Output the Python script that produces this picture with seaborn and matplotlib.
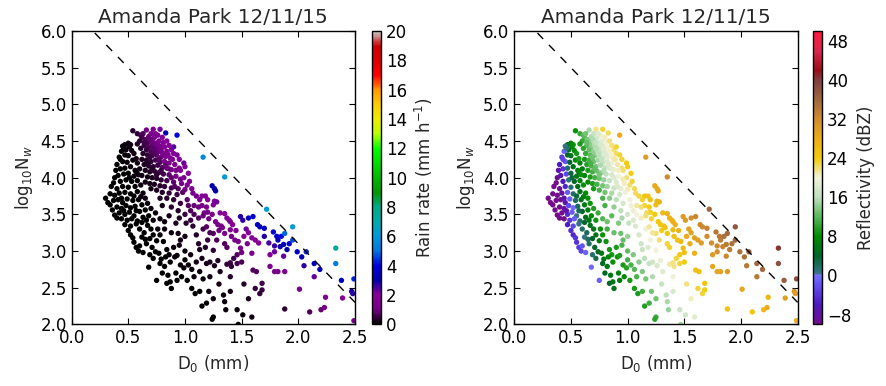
import numpy as np
import pandas as pd
import matplotlib
matplotlib.use("Agg")
import matplotlib.pyplot as plt
import seaborn as sns
from matplotlib.colors import LinearSegmentedColormap, Normalize
from matplotlib.cm import ScalarMappable
from matplotlib.ticker import FormatStrFormatter

# ---------------- data ----------------
title = "Amanda Park 12/11/15"

# core, upper part
core_top_d0 = [0.54,0.58,0.61,0.66,0.72,0.78,0.83,0.93,0.62,0.65,
               0.68,0.70,0.73,0.76,0.80,0.67,0.70,0.74,0.77,0.81,
               0.84,0.64,0.68,0.71,0.75,0.78,0.82,0.86,0.88,0.66,
               0.70,0.73,0.77,0.80,0.84,0.90,0.93,0.63,0.67,0.71,
               0.75,0.79,0.83,0.87,0.60,0.58,0.61,0.69,0.72,0.76,
               0.79,0.74,0.85,0.89]
core_top_nw = [4.64,4.60,4.58,4.65,4.66,4.66,4.61,4.58,4.55,4.52,
               4.56,4.60,4.55,4.58,4.55,4.48,4.50,4.47,4.50,4.48,
               4.50,4.44,4.42,4.44,4.41,4.43,4.42,4.44,4.38,4.38,
               4.36,4.38,4.36,4.34,4.36,4.33,4.31,4.33,4.31,4.30,
               4.31,4.28,4.29,4.27,4.50,4.46,4.40,4.53,4.48,4.45,
               4.39,4.33,4.32,4.25]
core_top_rain = [0.36,0.46,0.56,0.95,1.45,2.12,3.4,4.0,0.56,0.66,
                 0.89,1.11,1.20,1.56,1.85,0.69,0.88,1.07,1.37,1.66,
                 2.07,0.51,0.65,0.82,0.99,1.25,1.54,2.0,1.94,0.51,
                 0.64,0.81,1.0,1.14,1.50,1.93,2.14,0.36,0.46,0.59,
                 0.79,0.94,1.21,1.45,0.43,0.33,0.37,0.89,0.96,1.16,
                 1.21,0.77,1.44,1.52]
core_top_refl = [8.5,10.5,11.9,15.3,21.5,23.5,22.4,28.0,12.2,13.5,
                 15.4,16.7,17.5,19.2,20.6,14.0,15.7,17.2,18.8,20.2,
                 21.7,12.1,14.0,15.5,17.0,18.5,20.1,21.8,22.0,12.6,
                 14.3,15.8,17.4,18.5,20.3,22.2,23.1,10.5,12.3,14.1,
                 16.0,17.5,19.2,20.6,10.6,9.1,10.1,15.5,16.4,17.9,
                 18.6,15.8,20.2,21.0]

# core, middle part
core_mid_d0 = [0.62,0.66,0.70,0.74,0.78,0.82,0.86,0.91,0.95,0.64,
               0.68,0.72,0.76,0.80,0.84,0.88,0.96,1.03,0.60,0.65,
               0.69,0.73,0.77,0.81,0.86,0.92,0.99,0.62,0.67,0.71,
               0.75,0.79,0.84,0.90,0.97,1.02,0.65,0.69,0.73,0.78,
               0.82,0.88,0.94,1.00,0.58,0.57,0.70,0.75,0.80,0.86,
               0.93,1.07,1.13,1.10,1.19,1.20]
core_mid_nw = [4.25,4.24,4.22,4.24,4.21,4.22,4.20,4.18,4.13,4.18,
               4.16,4.15,4.17,4.14,4.13,4.11,4.10,4.06,4.12,4.10,
               4.08,4.09,4.07,4.05,4.04,4.02,4.00,4.03,4.01,4.00,
               3.99,3.97,3.96,3.94,3.92,3.90,3.94,3.92,3.91,3.89,
               3.88,3.86,3.85,3.84,4.20,4.08,3.85,3.83,3.80,3.79,
               3.77,3.79,3.70,3.75,3.60,3.53]
core_mid_rain = [0.28,0.37,0.46,0.63,0.75,0.97,1.15,1.44,1.57,0.28,
                 0.35,0.45,0.61,0.72,0.88,1.04,1.53,1.95,0.18,0.25,
                 0.31,0.42,0.51,0.62,0.80,1.05,1.42,0.17,0.23,0.30,
                 0.38,0.46,0.60,0.79,1.07,1.29,0.17,0.22,0.28,0.36,
                 0.44,0.59,0.78,1.02,0.18,0.13,0.20,0.26,0.33,0.45,
                 0.62,1.24,1.31,1.29,1.33,1.17]
core_mid_refl = [9.2,11.2,12.9,14.9,16.3,18.1,19.4,21.1,22.0,9.5,
                 11.4,13.1,15.1,16.5,18.0,19.3,22.0,24.0,6.8,9.3,
                 11.0,12.9,14.5,15.9,17.8,19.9,22.1,7.0,9.3,11.1,
                 12.8,14.4,16.3,18.3,20.6,22.1,7.7,9.4,11.1,13.1,
                 14.7,16.8,18.9,20.8,6.5,4.8,9.2,11.2,13.1,15.3,
                 17.7,22.5,23.4,23.0,24.1,23.7]

# left cluster of small drops
left_d0 = [0.50,0.47,0.45,0.51,0.48,0.44,0.53,0.47,0.42,0.50,
           0.55,0.45,0.40,0.49,0.54,0.43,0.39,0.47,0.52,0.56,
           0.41,0.46,0.50,0.55,0.37,0.43,0.48,0.53,0.58,0.35,
           0.40,0.45,0.50,0.56,0.61,0.30,0.34,0.38,0.42,0.47,
           0.52,0.58,0.63,0.34,0.37,0.41,0.45,0.49,0.54,0.59,
           0.65,0.36,0.40,0.44,0.48,0.52,0.56,0.62,0.67,0.38,
           0.42,0.47,0.51,0.55,0.60,0.65,0.70,0.44,0.49,0.53,
           0.58,0.63,0.68,0.74,0.47,0.52,0.57,0.62,0.67,0.72,
           0.78,0.82]
left_nw = [4.47,4.45,4.43,4.42,4.38,4.36,4.37,4.31,4.28,4.30,
           4.33,4.22,4.18,4.21,4.24,4.12,4.10,4.13,4.15,4.10,
           4.03,4.05,4.06,4.02,3.93,3.95,3.97,3.95,3.96,3.88,
           3.85,3.88,3.87,3.88,3.90,3.72,3.78,3.76,3.79,3.80,
           3.78,3.81,3.79,3.63,3.69,3.70,3.66,3.71,3.69,3.70,
           3.72,3.56,3.60,3.58,3.62,3.59,3.61,3.63,3.65,3.49,
           3.52,3.50,3.53,3.48,3.54,3.56,3.58,3.44,3.42,3.44,
           3.41,3.46,3.48,3.52,3.36,3.34,3.37,3.39,3.35,3.42,
           3.44,3.40]
left_rain = [0.17,0.12,0.10,0.17,0.11,0.07,0.18,0.09,0.05,0.12,
             0.19,0.06,0.03,0.09,0.14,0.04,0.02,0.06,0.10,0.12,
             0.02,0.04,0.07,0.09,0.01,0.03,0.04,0.07,0.11,0.01,
             0.01,0.03,0.04,0.07,0.12,0.003,0.004,0.01,0.02,0.03,
             0.04,0.07,0.10,0.003,0.005,0.01,0.02,0.03,0.04,0.06,
             0.10,0.003,0.01,0.01,0.02,0.03,0.04,0.07,0.10,0.003,
             0.01,0.01,0.02,0.03,0.05,0.07,0.11,0.01,0.01,0.02,
             0.03,0.05,0.07,0.12,0.01,0.02,0.03,0.04,0.05,0.08,
             0.13,0.15]
left_refl = [7.3,5.1,0.5,7.5,5.1,-1.0,8.2,3.7,-3.3,5.6,
             9.0,-1.6,-5.9,4.1,7.5,-4.1,-7.5,1.9,5.4,7.3,
             -6.6,-2.6,3.2,5.9,-10.0,-5.8,1.0,4.0,7.1,-10.0,
             -9.2,-5.0,1.3,5.1,8.1,-10.0,-10.0,-10.0,-8.2,-1.4,
             1.7,5.6,8.1,-10.0,-10.0,-9.9,-7.2,-0.9,2.0,5.1,
             8.5,-10.0,-10.0,-8.8,-2.5,-0.2,2.4,6.0,8.7,-10.0,
             -10.0,-4.4,-1.4,0.5,4.0,6.9,9.5,-10.0,-3.8,-1.1,
             1.6,4.8,7.6,10.7,-5.8,-2.7,0.7,3.6,5.7,8.8,
             11.6,12.9]

# lower tail (low concentration)
low_d0 = [0.52,0.54,0.62,0.65,0.69,0.72,0.78,0.75,0.81,0.57,
          0.60,0.59,0.69,0.74,0.77,0.79,0.78,0.82,0.87,0.91,
          0.93,0.96,0.99,1.03,1.06,1.10,1.13,0.85,0.87,0.88,
          0.84,0.75,1.06,1.09,1.13,1.19,0.90,0.95,1.00,0.84,
          0.66,0.71,0.86,0.92,0.97,1.02,1.16,1.21,1.25,1.35,
          1.34,1.46,1.51,1.59,1.25,1.24,1.47,1.22,1.31,1.19,
          1.22,1.26,1.29,1.37,1.40,1.41,1.46,1.50,1.43,1.40,
          1.68,1.68,1.62,1.66,1.88]
low_nw = [3.22,3.18,3.19,3.16,3.17,3.22,3.22,3.14,3.13,3.05,
          3.07,3.00,2.95,2.99,2.97,2.89,2.83,2.79,2.85,2.92,
          2.94,2.81,2.77,2.81,2.75,2.85,2.72,2.67,2.58,2.49,
          2.56,2.60,2.49,2.42,2.45,2.29,3.05,3.08,3.00,3.02,
          3.10,3.05,2.95,2.70,2.65,2.60,2.62,2.45,2.35,2.31,
          2.40,2.20,2.13,2.10,2.10,2.07,2.00,2.65,2.72,2.83,
          2.85,2.80,2.87,2.82,2.84,2.79,2.83,2.85,2.90,2.65,
          2.56,2.47,2.49,2.42,2.21]
low_rain = [0.01,0.01,0.02,0.03,0.04,0.05,0.08,0.05,0.07,0.01,
            0.02,0.01,0.02,0.04,0.04,0.04,0.03,0.04,0.05,0.08,
            0.09,0.08,0.08,0.11,0.11,0.16,0.14,0.03,0.03,0.02,
            0.02,0.01,0.06,0.06,0.07,0.07,0.10,0.14,0.15,0.07,
            0.03,0.03,0.06,0.05,0.06,0.06,0.12,0.10,0.09,0.12,
            0.15,0.14,0.14,0.16,0.05,0.05,0.09,0.17,0.27,0.23,
            0.26,0.27,0.36,0.43,0.49,0.45,0.58,0.70,0.62,0.32,
            0.60,0.49,0.44,0.41,0.46]
low_refl = [-4.9,-4.1,0.6,1.9,3.9,5.8,8.4,6.4,8.7,-3.5,
            -1.7,-2.9,1.7,4.4,5.5,5.6,4.5,5.8,8.4,8.5,
            9.4,9.1,9.8,11.5,11.8,14.0,13.6,5.7,5.7,5.1,
            4.3,-1.1,9.2,9.4,10.9,11.0,9.4,11.5,12.4,8.9,
            1.8,3.6,8.9,6.7,7.9,9.1,13.4,13.2,13.2,15.3,
            16.0,16.8,17.2,18.6,10.7,10.1,15.0,15.4,18.4,16.4,
            17.4,18.0,19.5,21.0,21.8,21.6,23.1,24.2,23.1,19.9,
            25.0,24.1,23.2,23.2,25.2]

# purple tail (medium drops)
tail_d0 = [1.01,1.07,1.10,1.16,1.19,0.94,0.96,1.00,1.15,1.18,
           1.26,1.28,1.25,1.17,1.16,1.21,1.31,1.35,1.37,1.39,
           1.27,1.29,1.32,1.33,1.40,1.42,1.12,1.13,1.18,1.20,
           1.25,1.28,1.25,1.30,1.35,1.35,1.37,1.41,1.40,1.47,
           1.49,1.50,1.52,1.55,1.59,1.62,1.65,1.59,1.60,1.63,
           1.54,1.05,1.08,1.12,1.24,1.22,1.45,1.46]
tail_nw = [3.38,3.34,3.22,3.30,3.33,3.24,3.15,3.20,3.75,3.75,
           3.68,3.67,3.63,3.52,3.48,3.44,3.52,3.51,3.45,3.42,
           3.40,3.36,3.34,3.32,3.40,3.36,3.10,3.02,3.05,3.15,
           3.24,3.15,3.01,3.28,3.24,3.10,3.05,3.20,3.29,3.13,
           3.04,2.98,3.20,3.10,3.18,3.15,3.11,2.97,2.74,2.72,
           3.30,3.55,3.62,3.45,3.50,3.25,3.28,2.95]
tail_rain = [0.37,0.44,0.38,0.59,0.72,0.19,0.17,0.23,1.60,1.80,
             2.07,2.19,1.79,1.02,0.89,1.00,1.72,1.94,1.82,1.81,
             1.14,1.12,1.19,1.17,1.79,1.74,0.32,0.27,0.36,0.49,
             0.73,0.66,0.43,0.96,1.04,0.75,0.72,1.16,1.39,1.20,
             1.04,0.94,1.66,1.44,1.95,2.00,1.96,1.20,0.73,0.76,
             2.23,0.66,0.88,0.71,1.27,0.66,1.59,0.77]
tail_refl = [16.5,18.0,17.7,20.2,21.4,12.8,12.5,14.4,24.5,25.3,
             26.8,27.2,26.0,22.7,22.0,23.1,26.4,27.3,27.3,27.4,
             24.3,24.4,24.9,25.0,27.4,27.5,17.1,16.6,18.3,19.9,
             22.1,22.0,19.8,23.8,24.6,23.2,23.3,25.7,26.3,26.3,
             25.9,25.5,28.2,27.8,29.4,29.8,29.9,27.3,25.2,25.6,
             29.6,19.5,21.1,20.6,24.4,21.4,27.4,24.3]

# blue points (larger drops)
big_d0 = [1.49,1.51,1.56,1.60,1.64,1.66,1.70,1.78,1.81,1.85,
          1.88,1.82,1.87,1.92,1.90,1.84,1.79,1.74,1.79,1.87,
          1.99,2.03,2.07,2.14,2.19,2.33,2.38,2.49,1.24,1.26,1.27]
big_nw = [3.47,3.42,3.45,3.47,3.36,3.33,3.31,3.26,3.20,3.20,
          3.24,3.15,3.09,3.10,3.02,3.06,3.07,3.11,2.99,2.93,
          2.99,2.92,2.99,2.83,2.75,2.83,2.60,2.62,3.89,3.85,3.82]
big_rain = [2.81,2.67,3.32,3.92,3.42,3.37,3.58,3.96,3.76,4.14,
            4.90,3.42,3.39,3.91,3.11,2.94,2.64,2.54,2.20,2.34,
            3.60,3.34,4.33,3.48,3.22,5.18,3.40,4.36,3.12,3.07,2.99]
big_refl = [30.2,30.1,31.5,32.5,32.3,32.3,32.9,33.9,33.9,34.6,
            35.5,33.6,33.9,34.8,33.7,33.0,32.2,31.7,31.4,32.3,
            34.9,34.8,36.2,35.6,35.6,38.4,36.9,38.5,28.3,28.5,28.5]

# heaviest points (cyan / teal)
heavy_d0 = [1.16,1.35,1.72,1.95,2.33]
heavy_nw = [4.28,4.01,3.57,3.33,3.04]
heavy_rain = [5.6,6.1,6.3,6.2,7.3]
heavy_refl = [30.0,32.3,35.9,37.6,40.5]

# sparse points at the right
right_d0 = [1.75,1.79,1.82,1.88,2.47,2.48,2.39,2.24,2.14,2.01,2.10,2.20,2.23,2.49]
right_nw = [2.79,2.72,2.72,2.72,2.45,2.42,2.36,2.37,2.65,2.48,2.17,2.20,2.23,2.05]
right_rain = [1.24,1.18,1.27,1.48,2.85,2.69,1.97,1.50,2.30,1.16,0.70,0.93,1.06,1.17]
right_refl = [28.7,28.7,29.3,30.3,31.0,30.0,30.0,27.0,34.0,29.0,25.0,27.0,28.0,28.0]

# extra points filling the dense core
fill_d0 = [0.64,0.72,0.69,0.77,0.83,0.71,0.79,0.75,0.88,0.67,
           0.81,0.74,0.63,0.86,0.92,0.96,1.04,0.91,0.98,0.84,
           0.90,0.78,0.96,1.02,0.88,0.80,0.94,1.00,0.86,1.05,
           0.92,1.12,1.08,0.82,0.88,0.76,0.70]
fill_nw = [4.48,4.40,4.28,4.25,4.17,4.12,4.10,4.04,4.00,4.20,
           4.31,4.60,4.60,4.12,4.10,3.98,3.95,3.88,3.80,3.72,
           3.70,3.72,3.65,3.70,3.60,3.62,3.55,3.50,3.48,3.42,
           3.38,3.60,3.50,3.30,3.25,3.30,3.30]
fill_rain = [0.55,0.80,0.50,0.77,0.92,0.39,0.62,0.42,0.81,0.36,
             1.12,1.44,0.68,0.96,1.26,1.16,1.58,0.72,0.85,0.34,
             0.45,0.24,0.54,0.82,0.32,0.22,0.39,0.47,0.22,0.49,
             0.24,1.00,0.67,0.12,0.14,0.08,0.06]
fill_refl = [12.5,15.6,13.0,16.3,18.0,12.3,15.7,13.3,18.2,11.2,
             18.5,18.5,13.2,18.6,20.7,20.8,23.2,18.1,19.7,13.9,
             15.9,11.4,17.5,20.1,14.2,11.3,15.9,17.4,12.2,18.2,
             13.5,22.1,19.9,10.9,12.7,8.4,5.7]

# further scattered points
extra_d0 = [0.46,0.52,0.43,0.57,0.38,0.51,0.59,0.32,0.44,0.55,
            0.61,0.40,0.46,0.57,0.50,0.60,0.66,0.55,0.64,0.63,
            0.72,0.83,0.80,0.93,1.00,1.05,1.15,1.08,1.30,1.15,
            1.36,0.95,1.03,1.15,1.20,1.06,0.99,0.95,0.90,1.00,
            1.44,1.56,1.70,1.95,1.75,2.05,1.52,1.56,1.40,0.68]
extra_nw = [4.40,4.45,4.25,4.26,4.00,4.00,4.04,3.66,3.72,3.75,
            3.74,3.45,3.55,3.55,3.28,3.30,3.42,3.12,3.25,2.98,
            2.90,2.92,2.70,2.60,2.88,2.95,2.90,2.65,2.55,2.25,
            2.20,3.45,3.62,3.62,3.70,3.85,4.20,4.25,4.42,4.15,
            3.15,3.25,3.20,3.15,2.95,2.80,2.55,2.35,2.45,2.78]
extra_rain = [0.10,0.20,0.05,0.20,0.02,0.06,0.14,0.003,0.02,0.05,
              0.08,0.004,0.01,0.04,0.01,0.03,0.06,0.01,0.03,0.02,
              0.03,0.05,0.03,0.04,0.11,0.17,0.23,0.09,0.18,0.05,
              0.10,0.33,0.71,1.19,1.73,1.37,2.24,2.07,2.37,2.09,
              1.14,2.09,2.78,4.72,1.80,2.67,0.37,0.26,0.20,0.01]
extra_refl = [0.9,8.4,-2.8,9.6,-9.4,3.3,8.5,-10.0,-7.4,3.2,
              6.5,-10.0,-7.6,2.5,-4.6,1.6,6.0,-4.1,2.2,-1.0,
              2.6,7.5,4.1,6.0,11.2,13.5,16.0,11.4,16.5,9.5,
              14.5,15.2,19.6,23.2,25.4,22.8,24.1,23.2,23.1,23.9,
              25.8,29.5,31.8,35.8,30.3,34.0,21.7,20.5,17.9,-0.4]

# stratiform / convective separation line (log10Nw = 6.3 - 1.6 D0)
sep_intercept = 6.3
sep_slope = -1.6

rain_ticks = list(range(0, 21, 2))
refl_ticks = list(range(-8, 49, 8))

# ---------------- assemble ----------------
groups = [
    (core_top_d0, core_top_nw, core_top_rain, core_top_refl),
    (core_mid_d0, core_mid_nw, core_mid_rain, core_mid_refl),
    (left_d0, left_nw, left_rain, left_refl),
    (low_d0, low_nw, low_rain, low_refl),
    (tail_d0, tail_nw, tail_rain, tail_refl),
    (extra_d0, extra_nw, extra_rain, extra_refl),
    (fill_d0, fill_nw, fill_rain, fill_refl),
    (big_d0, big_nw, big_rain, big_refl),
    (right_d0, right_nw, right_rain, right_refl),
    (heavy_d0, heavy_nw, heavy_rain, heavy_refl),
]
frames = []
for g in groups:
    n = len(g[0])
    assert all(len(a) == n for a in g), [len(a) for a in g]
    frames.append(pd.DataFrame({"d0": g[0], "nw": g[1], "rain": g[2], "refl": g[3]}))
df = pd.concat(frames, ignore_index=True)

# ---------------- style ----------------
sns.set_style("ticks")
plt.rcParams.update({
    "font.family": ["DejaVu Sans"],
    "font.size": 12,
    "axes.linewidth": 1.0,
    "axes.edgecolor": "black",
    "xtick.direction": "in",
    "ytick.direction": "in",
    "xtick.top": True,
    "ytick.right": True,
    "xtick.major.size": 4,
    "ytick.major.size": 4,
    "xtick.major.width": 0.8,
    "ytick.major.width": 0.8,
    "xtick.labelsize": 12,
    "ytick.labelsize": 12,
    "xtick.color": "black",
    "ytick.color": "black",
})

refl_cmap = LinearSegmentedColormap.from_list("refl", [
    (0.0 / 60, (0.45, 0.05, 0.55)),
    (4.0 / 60, (0.30, 0.10, 0.75)),
    (8.0 / 60, (0.38, 0.32, 0.95)),
    (10.0 / 60, (0.45, 0.45, 1.00)),
    (10.3 / 60, (0.22, 0.45, 0.55)),
    (14.0 / 60, (0.00, 0.40, 0.15)),
    (18.0 / 60, (0.00, 0.55, 0.00)),
    (22.0 / 60, (0.35, 0.72, 0.35)),
    (26.0 / 60, (0.75, 0.88, 0.75)),
    (30.0 / 60, (0.95, 0.95, 0.85)),
    (34.0 / 60, (0.95, 0.80, 0.05)),
    (38.0 / 60, (0.92, 0.68, 0.10)),
    (42.0 / 60, (0.82, 0.55, 0.18)),
    (46.0 / 60, (0.62, 0.40, 0.25)),
    (50.0 / 60, (0.50, 0.25, 0.25)),
    (52.0 / 60, (0.60, 0.05, 0.10)),
    (56.0 / 60, (0.85, 0.15, 0.30)),
    (60.0 / 60, (1.00, 0.10, 0.25)),
])
rain_cmap = plt.get_cmap("nipy_spectral")
rain_norm = Normalize(0, 20)
refl_norm = Normalize(-10, 50)

fig = plt.figure(figsize=(8.86, 3.86), dpi=100)
ax1 = fig.add_axes([0.0808, 0.1596, 0.3199, 0.7601])
cax1 = fig.add_axes([0.4195, 0.1596, 0.0105, 0.7601])
ax2 = fig.add_axes([0.5804, 0.1596, 0.3199, 0.7601])
cax2 = fig.add_axes([0.9180, 0.1596, 0.0097, 0.7601])

x_line = np.linspace(0, 2.5, 50)

for ax, col, cmap, norm, cax, ticks, label in [
    (ax1, "rain", rain_cmap, rain_norm, cax1, rain_ticks, "Rain rate (mm h$^{-1}$)"),
    (ax2, "refl", refl_cmap, refl_norm, cax2, refl_ticks, "Reflectivity (dBZ)"),
]:
    sns.scatterplot(data=df, x="d0", y="nw", hue=col, palette=cmap,
                    hue_norm=norm, s=15, linewidth=0, legend=False, ax=ax)
    ax.plot(x_line, sep_intercept + sep_slope * x_line, color="black",
            lw=1.0, dashes=(6, 6))
    ax.set_xlim(0, 2.5)
    ax.set_ylim(2, 6)
    ax.set_xticks(np.arange(0, 2.51, 0.5))
    ax.set_yticks(np.arange(2, 6.01, 0.5))
    ax.xaxis.set_major_formatter(FormatStrFormatter("%.1f"))
    ax.yaxis.set_major_formatter(FormatStrFormatter("%.1f"))
    ax.set_xlabel("D$_0$ (mm)", fontsize=12)
    ax.set_ylabel("log$_{10}$N$_w$", fontsize=12)
    ax.set_title(title, fontsize=14.4)
    for sp in ax.spines.values():
        sp.set_visible(True)
        sp.set_color("black")
    cb = fig.colorbar(ScalarMappable(norm=norm, cmap=cmap), cax=cax, ticks=ticks)
    cb.set_label(label, fontsize=12)
    cb.ax.tick_params(direction="in", length=4, width=0.8, labelsize=12)
    cb.outline.set_linewidth(1.0)

fig.savefig("out.png", dpi=100)
